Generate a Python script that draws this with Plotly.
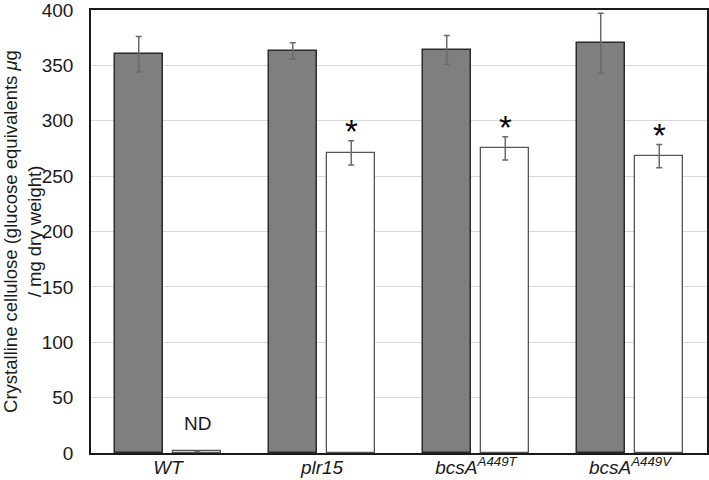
import plotly.graph_objects as go

categories = ["WT", "plr15", "bcsA449T", "bcsA449V"]
tick_labels = ["<i>WT</i>", "<i>plr15</i>", "<i>bcsA<sup>A449T</sup></i>", "<i>bcsA<sup>A449V</sup></i>"]
gray_values = [360, 363, 364, 370]
gray_errors = [16, 7.5, 13, 27]
white_values = [1.5, 271, 275, 268]
white_errors = [None, 11, 10.5, 10.5]
white_marks = ["ND", "*", "*", "*"]
y_ticks = [0, 50, 100, 150, 200, 250, 300, 350, 400]

FONT = "Liberation Sans, Arial, Helvetica, sans-serif"
BAR_W = 0.31
SEP = 0.19  # half distance between bar centres in a group

x_idx = list(range(len(categories)))

fig = go.Figure()
fig.add_trace(go.Bar(
    x=x_idx, y=gray_values, width=BAR_W, offset=-SEP - BAR_W / 2,
    marker=dict(color="#7f7f7f", line=dict(color="#2b2b2b", width=1.5)),
    error_y=dict(type="data", array=gray_errors, color="#6a6a6a", thickness=1.5, width=3),
    showlegend=False,
))
fig.add_trace(go.Bar(
    x=x_idx, y=white_values, width=BAR_W, offset=SEP - BAR_W / 2,
    marker=dict(color="#ffffff", line=dict(color="#555555", width=1.3)),
    error_y=dict(type="data", array=[e if e is not None else 0 for e in white_errors],
                 color="#6a6a6a", thickness=1.5, width=3),
    showlegend=False,
))

for i, mark in enumerate(white_marks):
    if mark == "ND":
        fig.add_annotation(x=i + SEP, y=white_values[i], yref="y", text="ND",
                           showarrow=False, yanchor="bottom", yshift=15,
                           font=dict(family=FONT, size=19, color="#1a1a1a"))
    else:
        top = white_values[i] + (white_errors[i] or 0)
        fig.add_annotation(x=i + SEP, y=top, yref="y", text="*",
                           showarrow=False, yanchor="bottom", yshift=-11,
                           font=dict(family=FONT, size=33, color="#000000"))

fig.update_layout(
    width=709, height=480,
    margin=dict(l=91, r=2, t=9.5, b=27),
    paper_bgcolor="white", plot_bgcolor="white",
    font=dict(family=FONT, size=19, color="#1a1a1a"),
    bargap=0, barmode="overlay",
)
fig.update_xaxes(
    range=[-0.5, 3.5], tickvals=x_idx, ticktext=tick_labels, automargin=False,
    showline=True, linecolor="#1a1a1a", linewidth=1.5, mirror=True,
    showgrid=False, ticks="", tickfont=dict(size=19), zeroline=False,
    ticklabelstandoff=-4, ticklabeloverflow="allow",
)
fig.update_yaxes(
    range=[0, 400], tickvals=y_ticks, showgrid=True, gridcolor="#d9d9d9", gridwidth=1,
    showline=True, linecolor="#1a1a1a", linewidth=1.5, mirror=True, automargin=False,
    ticks="", ticklabelstandoff=12, zeroline=False, tickfont=dict(size=19),
    ticklabeloverflow="allow",
    title=dict(text="Crystalline cellulose (glucose equivalents <i>μ</i>g<br>/ mg dry weight)",
               font=dict(size=18.5), standoff=8),
)

fig.write_html("out.html", config={"displayModeBar": False},
               post_script="document.body.style.margin='0';document.body.style.overflow='hidden';")
